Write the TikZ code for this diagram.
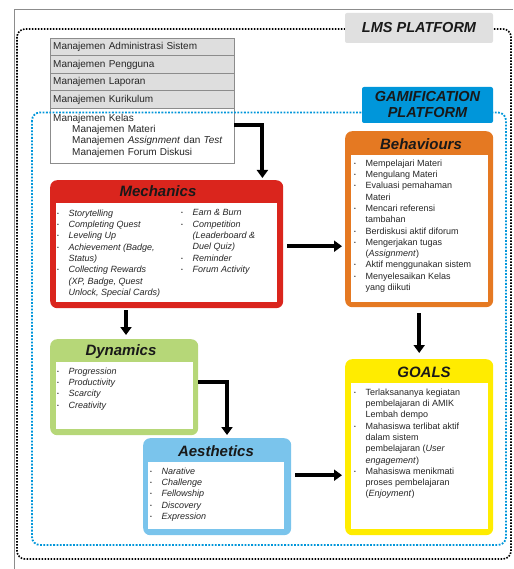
\documentclass[tikz,border=0pt]{standalone}
\usepackage{fontspec}
\setmainfont{Liberation Sans}
\usetikzlibrary{positioning,arrows.meta}

\definecolor{mechred}{RGB}{218,37,29}
\definecolor{behorange}{RGB}{229,121,34}
\definecolor{goalyellow}{RGB}{255,236,0}
\definecolor{dyngreen}{RGB}{182,215,120}
\definecolor{aesblue}{RGB}{122,196,236}
\definecolor{gamblue}{RGB}{0,150,218}
\definecolor{lmsgrey}{RGB}{224,224,224}

\newcommand{\itm}{\makebox[11.5pt][l]{\raisebox{1pt}{\tiny\textbullet}}}
\newcommand{\cnt}{\hspace*{11.5pt}}

\tikzset{
  panel/.style={rounded corners=7pt, anchor=north west, inner sep=0pt},
  innerbox/.style={fill=white, anchor=north west, inner sep=0pt},
  title/.style={font=\fontsize{15}{17}\selectfont\bfseries\itshape, text=black!90},
  list/.style={anchor=north west, align=left, inner sep=0pt, text=black!85, font=\fontsize{9}{11.3}\selectfont},
  ilist/.style={list, font=\fontsize{9}{11.3}\selectfont\itshape},
  row/.style={draw=black!45, fill=black!13, anchor=north west, minimum width=184, minimum height=17.5,
    inner sep=3pt, text width=178, align=left, text=black!85, font=\fontsize{10}{11.3}\selectfont},
  arrow/.style={line width=4pt, -{Triangle[length=8pt,width=11pt]}},
  platform/.style={rounded corners=2pt, inner sep=0pt, align=center, text=black!90,
    font=\fontsize{14.5}{16}\selectfont\bfseries\itshape}
}

\begin{document}
\begin{tikzpicture}[x=1pt, y=-1pt]
\useasboundingbox (0,0) rectangle (513,569);

% Page frame
\draw[black!45, line width=0.8pt] (14,569) -- (14,9) -- (513,9);

% LMS frame
\draw[line width=1.6pt, dash pattern=on 1.6pt off 1.4pt, rounded corners=8pt] (17,29) rectangle (511,559);
\node[platform, fill=lmsgrey, minimum width=148, minimum height=30] (lmslabel) at (419,28) {LMS PLATFORM};

% LMS menu
\foreach \i/\txt/\y in {1/Manajemen Administrasi Sistem/38, 2/Manajemen Pengguna/55.5,
  3/Manajemen Laporan/73, 4/Manajemen Kurikulum/90.5} {
  \node[row] (row\i) at (50,\y) {\txt};
}
\node[row, fill=white, minimum height=55] (kelas) at (50,108)
  {Manajemen Kelas\\
   \hspace*{19pt}Manajemen Materi\\
   \hspace*{19pt}Manajemen \textit{Assignment} dan \textit{Test}\\
   \hspace*{19pt}Manajemen Forum Diskusi};

% Gamification frame
\draw[gamblue, line width=1.8pt, dash pattern=on 1.8pt off 1.5pt, rounded corners=8pt] (32,112.5) rectangle (506,545);
\node[platform, fill=gamblue, minimum width=131, minimum height=36] (gamlabel) at (427.5,105) {GAMIFICATION\\PLATFORM};

% Mechanics
\node[panel, fill=mechred, minimum width=233, minimum height=128] (mech) at (50,180) {};
\node[innerbox, minimum width=221, minimum height=99] (mechin) at (56,203) {};
\node[title] (mechtitle) at (158,191) {Mechanics};
\node[ilist] (mechleft) at (57,209.5)
  {\itm Storytelling\\
   \itm Completing Quest\\
   \itm Leveling Up\\
   \itm Achievement (Badge,\\
   \cnt Status)\\
   \itm Collecting Rewards\\
   \cnt (XP, Badge, Quest\\
   \cnt Unlock, Special Cards)};
\node[ilist] (mechright) at (181,209.5)
  {\itm Earn \& Burn\\
   \itm Competition\\
   \cnt (Leaderboard \&\\
   \cnt Duel Quiz)\\
   \itm Reminder\\
   \itm Forum Activity};

% Behaviours
\node[panel, fill=behorange, minimum width=148, minimum height=176] (beh) at (345,131) {};
\node[innerbox, minimum width=137, minimum height=147] (behin) at (351,155) {};
\node[title] (behtitle) at (421,144) {Behaviours};
\node[list] (behlist) at (354,159.5)
  {\itm Mempelajari Materi\\
   \itm Mengulang Materi\\
   \itm Evaluasi pemahaman\\
   \cnt Materi\\
   \itm Mencari referensi\\
   \cnt tambahan\\
   \itm Berdiskusi aktif diforum\\
   \itm Mengerjakan tugas\\
   \cnt (\textit{Assignment})\\
   \itm Aktif menggunakan sistem\\
   \itm Menyelesaikan Kelas\\
   \cnt yang diikuti};

% Goals
\node[panel, fill=goalyellow, minimum width=148, minimum height=176] (goals) at (345,359) {};
\node[innerbox, minimum width=137, minimum height=146] (goalsin) at (351,383) {};
\node[title] (goalstitle) at (424,372) {GOALS};
\node[list] (goalslist) at (354,388.5)
  {\itm Terlaksananya kegiatan\\
   \cnt pembelajaran di AMIK\\
   \cnt Lembah dempo\\
   \itm Mahasiswa terlibat aktif\\
   \cnt dalam sistem\\
   \cnt pembelajaran (\textit{User}\\
   \cnt \textit{engagement})\\
   \itm Mahasiswa menikmati\\
   \cnt proses pembelajaran\\
   \cnt (\textit{Enjoyment})};

% Dynamics
\node[panel, fill=dyngreen, minimum width=148, minimum height=96] (dyn) at (50,339) {};
\node[innerbox, minimum width=137, minimum height=67] (dynin) at (56,362) {};
\node[title] (dyntitle) at (121,352) {Dynamics};
\node[ilist] (dynlist) at (57,367.5)
  {\itm Progression\\
   \itm Productivity\\
   \itm Scarcity\\
   \itm Creativity};

% Aesthetics
\node[panel, fill=aesblue, minimum width=148, minimum height=97] (aes) at (143,438) {};
\node[innerbox, minimum width=136, minimum height=67] (aesin) at (148,462) {};
\node[title] (aestitle) at (216,451) {Aesthetics};
\node[ilist] (aeslist) at (150,467.5)
  {\itm Narative\\
   \itm Challenge\\
   \itm Fellowship\\
   \itm Discovery\\
   \itm Expression};

% Arrows
\draw[arrow] ([yshift=-17pt]kelas.north east) -| ([xshift=-21pt,yshift=2pt]mech.north east);
\draw[arrow] ([xshift=4pt,yshift=-2pt]mech.east) -- ([xshift=-3pt,yshift=-27pt]beh.west);
\draw[arrow] ([yshift=-6pt]beh.south) -- ([yshift=6pt]goals.north);
\draw[arrow] ([xshift=76pt,yshift=-2pt]mech.south west) -- ([xshift=76pt,yshift=4pt]dyn.north west);
\draw[arrow] ([yshift=5pt]dyn.east) -| ([xshift=84pt,yshift=3pt]aes.north west);
\draw[arrow] ([xshift=4pt,yshift=11.5pt]aes.east) -- ([xshift=-3pt,yshift=-28pt]goals.west);
\end{tikzpicture}
\end{document}
